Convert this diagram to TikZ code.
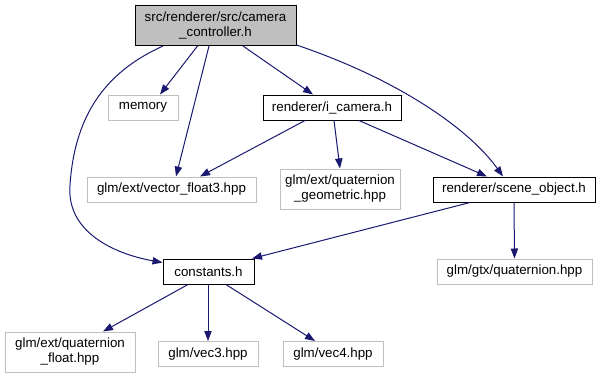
\documentclass[tikz,border=0pt]{standalone}
\usepackage{fontspec}
\setmainfont{Liberation Sans}
\usepackage[RGB]{xcolor}
\usetikzlibrary{arrows.meta,calc}
\definecolor{edgeblue}{RGB}{25,25,112}
\definecolor{boxgray}{RGB}{191,191,191}
\newcommand{\drawedge}{\draw[incl]}
\tikzset{
  file/.style={draw=black, fill=white, line width=0.75pt, inner sep=0pt, align=center,
    font=\fontsize{10}{11.3}\selectfont},
  ext/.style={file, draw=boxgray},
  incl/.style={edgeblue, line width=0.75pt, -{Triangle[length=7.5pt,width=5.5pt]}},
}
\begin{document}
\begin{tikzpicture}[x=0.75pt, y=-0.75pt]
\useasboundingbox (0,0) rectangle (600,380);
\node[file, fill=boxgray, minimum width=120.75pt, minimum height=30pt] (ctrl) at (215.5,25.5) {src/renderer/src/camera\\\_controller.h};
\node[ext, minimum width=52.5pt, minimum height=18.75pt] (memory) at (143,107.5) {memory};
\node[file, minimum width=103.5pt, minimum height=18.75pt] (icamera) at (332,107.5) {renderer/i\_camera.h};
\node[ext, minimum width=126.75pt, minimum height=18.75pt] (vecfloat) at (171.5,189.5) {glm/ext/vector\_float3.hpp};
\node[ext, minimum width=90pt, minimum height=30pt] (quatgeom) at (340,189) {glm/ext/quaternion\\\_geometric.hpp};
\node[file, minimum width=121.5pt, minimum height=18.75pt] (sceneobj) at (514,189.5) {renderer/scene\_object.h};
\node[file, minimum width=68.25pt, minimum height=18.75pt] (constants) at (208.5,271.5) {constants.h};
\node[ext, minimum width=116.25pt, minimum height=18.75pt] (gtxquat) at (514.5,271.5) {glm/gtx/quaternion.hpp};
\node[ext, minimum width=97.5pt, minimum height=30pt] (quatfloat) at (70,352) {glm/ext/quaternion\\\_float.hpp};
\node[ext, minimum width=75pt, minimum height=18.75pt] (vecthree) at (208,354) {glm/vec3.hpp};
\node[ext, minimum width=75pt, minimum height=18.75pt] (vecfour) at (333,354) {glm/vec4.hpp};

\drawedge ($(ctrl.south)+(-18,0)$) -- ($(memory.north)+(17,0)$);
\drawedge ($(ctrl.south)+(-6.5,0)$) -- ($(vecfloat.north)+(4.5,0)$);
\drawedge ($(ctrl.south)+(27.5,0)$) -- ($(icamera.north)+(-19,0)$);
\drawedge ($(ctrl.south east)+(0,-1)$) .. controls (400,80) and (470,130) .. ($(sceneobj.north)+(-11,0)$);
\drawedge ($(ctrl.south)+(-52.5,0)$) .. controls (110,70) and (75,110) .. (70,185)
  .. controls (66,235) and (120,255) .. ($(constants.west)+(0,-9)$);
\drawedge ($(icamera.south)+(-27,0)$) -- ($(vecfloat.north)+(28.5,0)$);
\drawedge ($(icamera.south)+(2,0)$) -- (quatgeom.north);
\drawedge ($(icamera.south)+(27,0)$) -- ($(sceneobj.north)+(-27,0)$);
\drawedge ($(sceneobj.south)+(-44,0)$) -- ($(constants.north)+(43.5,0)$);
\drawedge (sceneobj.south) -- (gtxquat.north);
\drawedge ($(constants.south)+(-20.5,0)$) -- ($(quatfloat.north)+(33,0)$);
\drawedge ($(constants.south)+(-0.5,0)$) -- (vecthree.north);
\drawedge ($(constants.south)+(17.5,0)$) -- ($(vecfour.north)+(-18,0)$);
\end{tikzpicture}
\end{document}
